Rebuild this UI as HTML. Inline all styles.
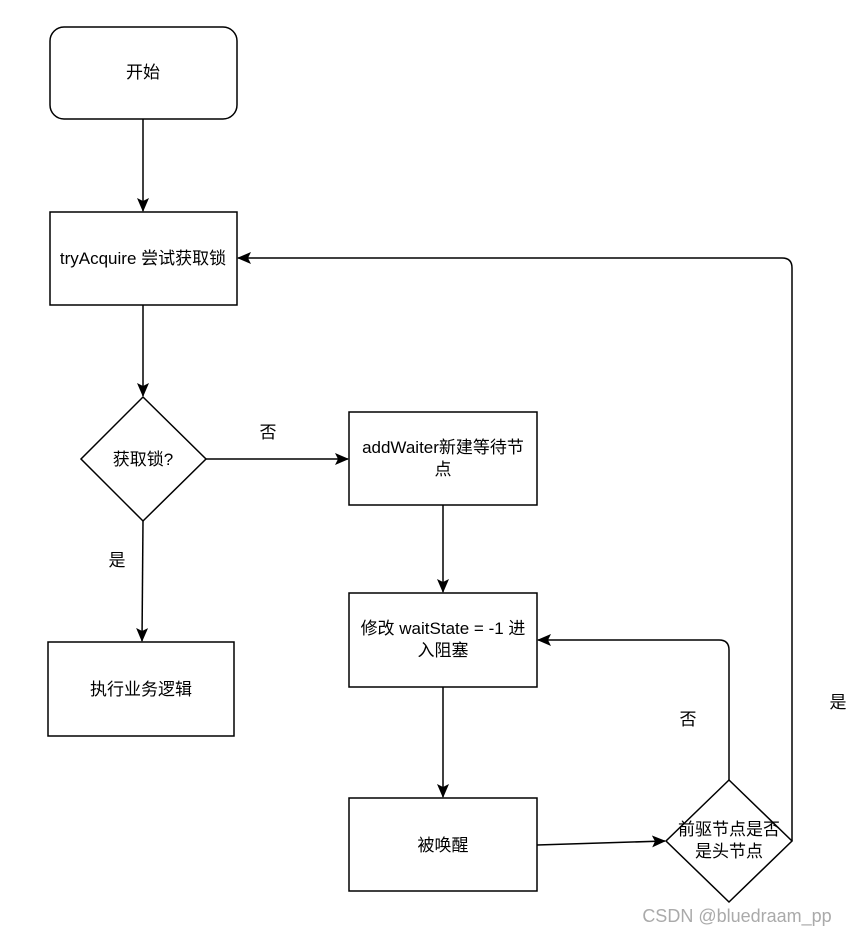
<!DOCTYPE html>
<html><head><meta charset="utf-8"><style>
body{margin:0;background:#fff;}
text{font-family:"Liberation Sans","Noto Sans CJK SC",sans-serif;font-size:17px;fill:#000;}
</style></head><body>
<svg width="850" height="935" xmlns="http://www.w3.org/2000/svg">
<defs><marker id="a" markerWidth="14" markerHeight="12" refX="13" refY="6" orient="auto" markerUnits="userSpaceOnUse"><path d="M0,0 L14,6 L0,12 L3,6 Z" fill="#000"/></marker></defs>
<g stroke="#000" stroke-width="1.5" fill="#fff">
<rect x="50" y="27" width="187" height="92" rx="14"/>
<rect x="50" y="212" width="187" height="93"/>
<path d="M143,397 L206,459 L143,521 L81,459 Z"/>
<rect x="349" y="412" width="188" height="93"/>
<rect x="349" y="593" width="188" height="94"/>
<rect x="48" y="642" width="186" height="94"/>
<rect x="349" y="798" width="188" height="93"/>
<path d="M729,780 L792,841 L729,902 L666,841 Z"/>
</g>
<g stroke="#000" stroke-width="1.5" fill="none" marker-end="url(#a)">
<path d="M143,119 V211"/>
<path d="M143,305 V396"/>
<path d="M206,459 H348"/>
<path d="M143,521 L142,641"/>
<path d="M443,505 V592"/>
<path d="M443,687 V797"/>
<path d="M537,845 L665,841"/>
<path d="M729,780 V650 Q729,640 719,640 H538"/>
<path d="M792,841 V268 Q792,258 782,258 H238"/>
</g>
<text x="143" y="78" text-anchor="middle">开始</text>
<text x="143" y="264" text-anchor="middle">tryAcquire 尝试获取锁</text>
<text x="143" y="465" text-anchor="middle">获取锁?</text>
<text x="268" y="438" text-anchor="middle">否</text>
<text x="117" y="566" text-anchor="middle">是</text>
<text x="443" y="453" text-anchor="middle">addWaiter新建等待节</text>
<text x="443" y="475" text-anchor="middle">点</text>
<text x="443" y="634" text-anchor="middle">修改 waitState = -1 进</text>
<text x="443" y="656" text-anchor="middle">入阻塞</text>
<text x="141" y="695" text-anchor="middle">执行业务逻辑</text>
<text x="443" y="851" text-anchor="middle">被唤醒</text>
<text x="729" y="835" text-anchor="middle">前驱节点是否</text>
<text x="729" y="857" text-anchor="middle">是头节点</text>
<text x="688" y="725" text-anchor="middle">否</text>
<text x="838" y="708" text-anchor="middle">是</text>
<text x="737" y="922" text-anchor="middle" style="fill:#aaa;font-size:18px">CSDN @bluedraam_pp</text>
</svg>
</body></html>
